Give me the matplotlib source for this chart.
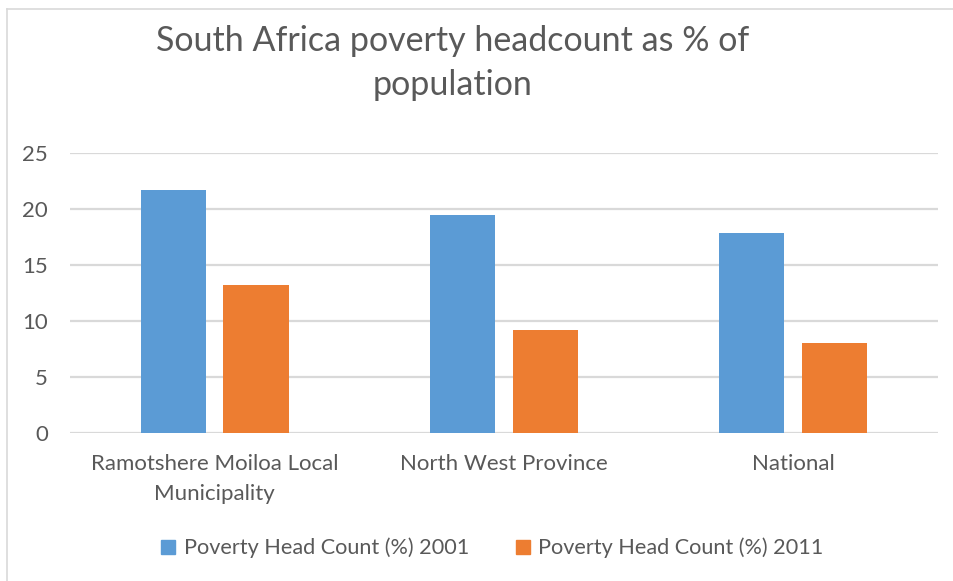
import matplotlib
matplotlib.use("Agg")
import matplotlib.pyplot as plt
import numpy as np
from matplotlib.lines import Line2D

categories = ["Ramotshere Moiloa Local\nMunicipality", "North West Province", "National"]
series_names = ["Poverty Head Count (%) 2001", "Poverty Head Count (%) 2011"]
values_2001 = [21.7, 19.5, 17.9]
values_2011 = [13.2, 9.2, 8.0]
yticks = [0, 5, 10, 15, 20, 25]
title = "South Africa poverty headcount as % of\npopulation"

blue = "#5B9BD5"
orange = "#ED7D31"
text_color = "#595959"
grid_color = "#D9D9D9"

plt.rcParams['font.family'] = ['Lato', 'DejaVu Sans']

fig = plt.figure(figsize=(9.54, 5.81), dpi=100)
W, H = 954, 581
ax = fig.add_axes([70 / W, 1 - 432.7 / H, (937.7 - 70) / W, (432.7 - 153.3) / H])

x = np.arange(len(categories))
bw = 0.225
off = 0.143
ax.bar(x - off, values_2001, bw, color=blue, zorder=3)
ax.bar(x + off, values_2011, bw, color=orange, zorder=3)

ax.set_xlim(-0.5, len(categories) - 0.5)
ax.set_ylim(0, 25)
ax.set_yticks(yticks)
ax.set_yticklabels([str(t) for t in yticks])
ax.yaxis.grid(True, color=grid_color, linewidth=1.6, zorder=0)
ax.set_axisbelow(True)
for s in ax.spines.values():
    s.set_visible(False)
ax.tick_params(axis='both', length=0, colors=text_color, labelsize=16)
ax.tick_params(axis='y', pad=16)
ax.tick_params(axis='x', pad=15)
ax.set_xticks(x)
ax.set_xticklabels(categories, linespacing=1.68)

fig.text(453 / W, 1 - 63 / H, title, ha='center', va='center', fontsize=24.5,
         color=text_color, linespacing=1.45)

handles = [Line2D([], [], marker='s', linestyle='none', markersize=10,
                  markerfacecolor=blue, markeredgecolor=blue),
           Line2D([], [], marker='s', linestyle='none', markersize=10,
                  markerfacecolor=orange, markeredgecolor=orange)]
leg = fig.legend(handles, series_names, loc='center', ncol=2,
                 bbox_to_anchor=(491.5 / W, 1 - 548 / H), frameon=False,
                 fontsize=15.6, handlelength=0.8, handletextpad=0.3,
                 columnspacing=2.1, labelcolor=text_color)

# chart border (top and left visible)
fig.add_artist(Line2D([7 / W, 1], [1 - 9 / H, 1 - 9 / H], transform=fig.transFigure,
                      color=grid_color, linewidth=1.2))
fig.add_artist(Line2D([7 / W, 7 / W], [0, 1 - 9 / H], transform=fig.transFigure,
                      color=grid_color, linewidth=1.2))

fig.savefig("out.png", dpi=100, facecolor='white')
